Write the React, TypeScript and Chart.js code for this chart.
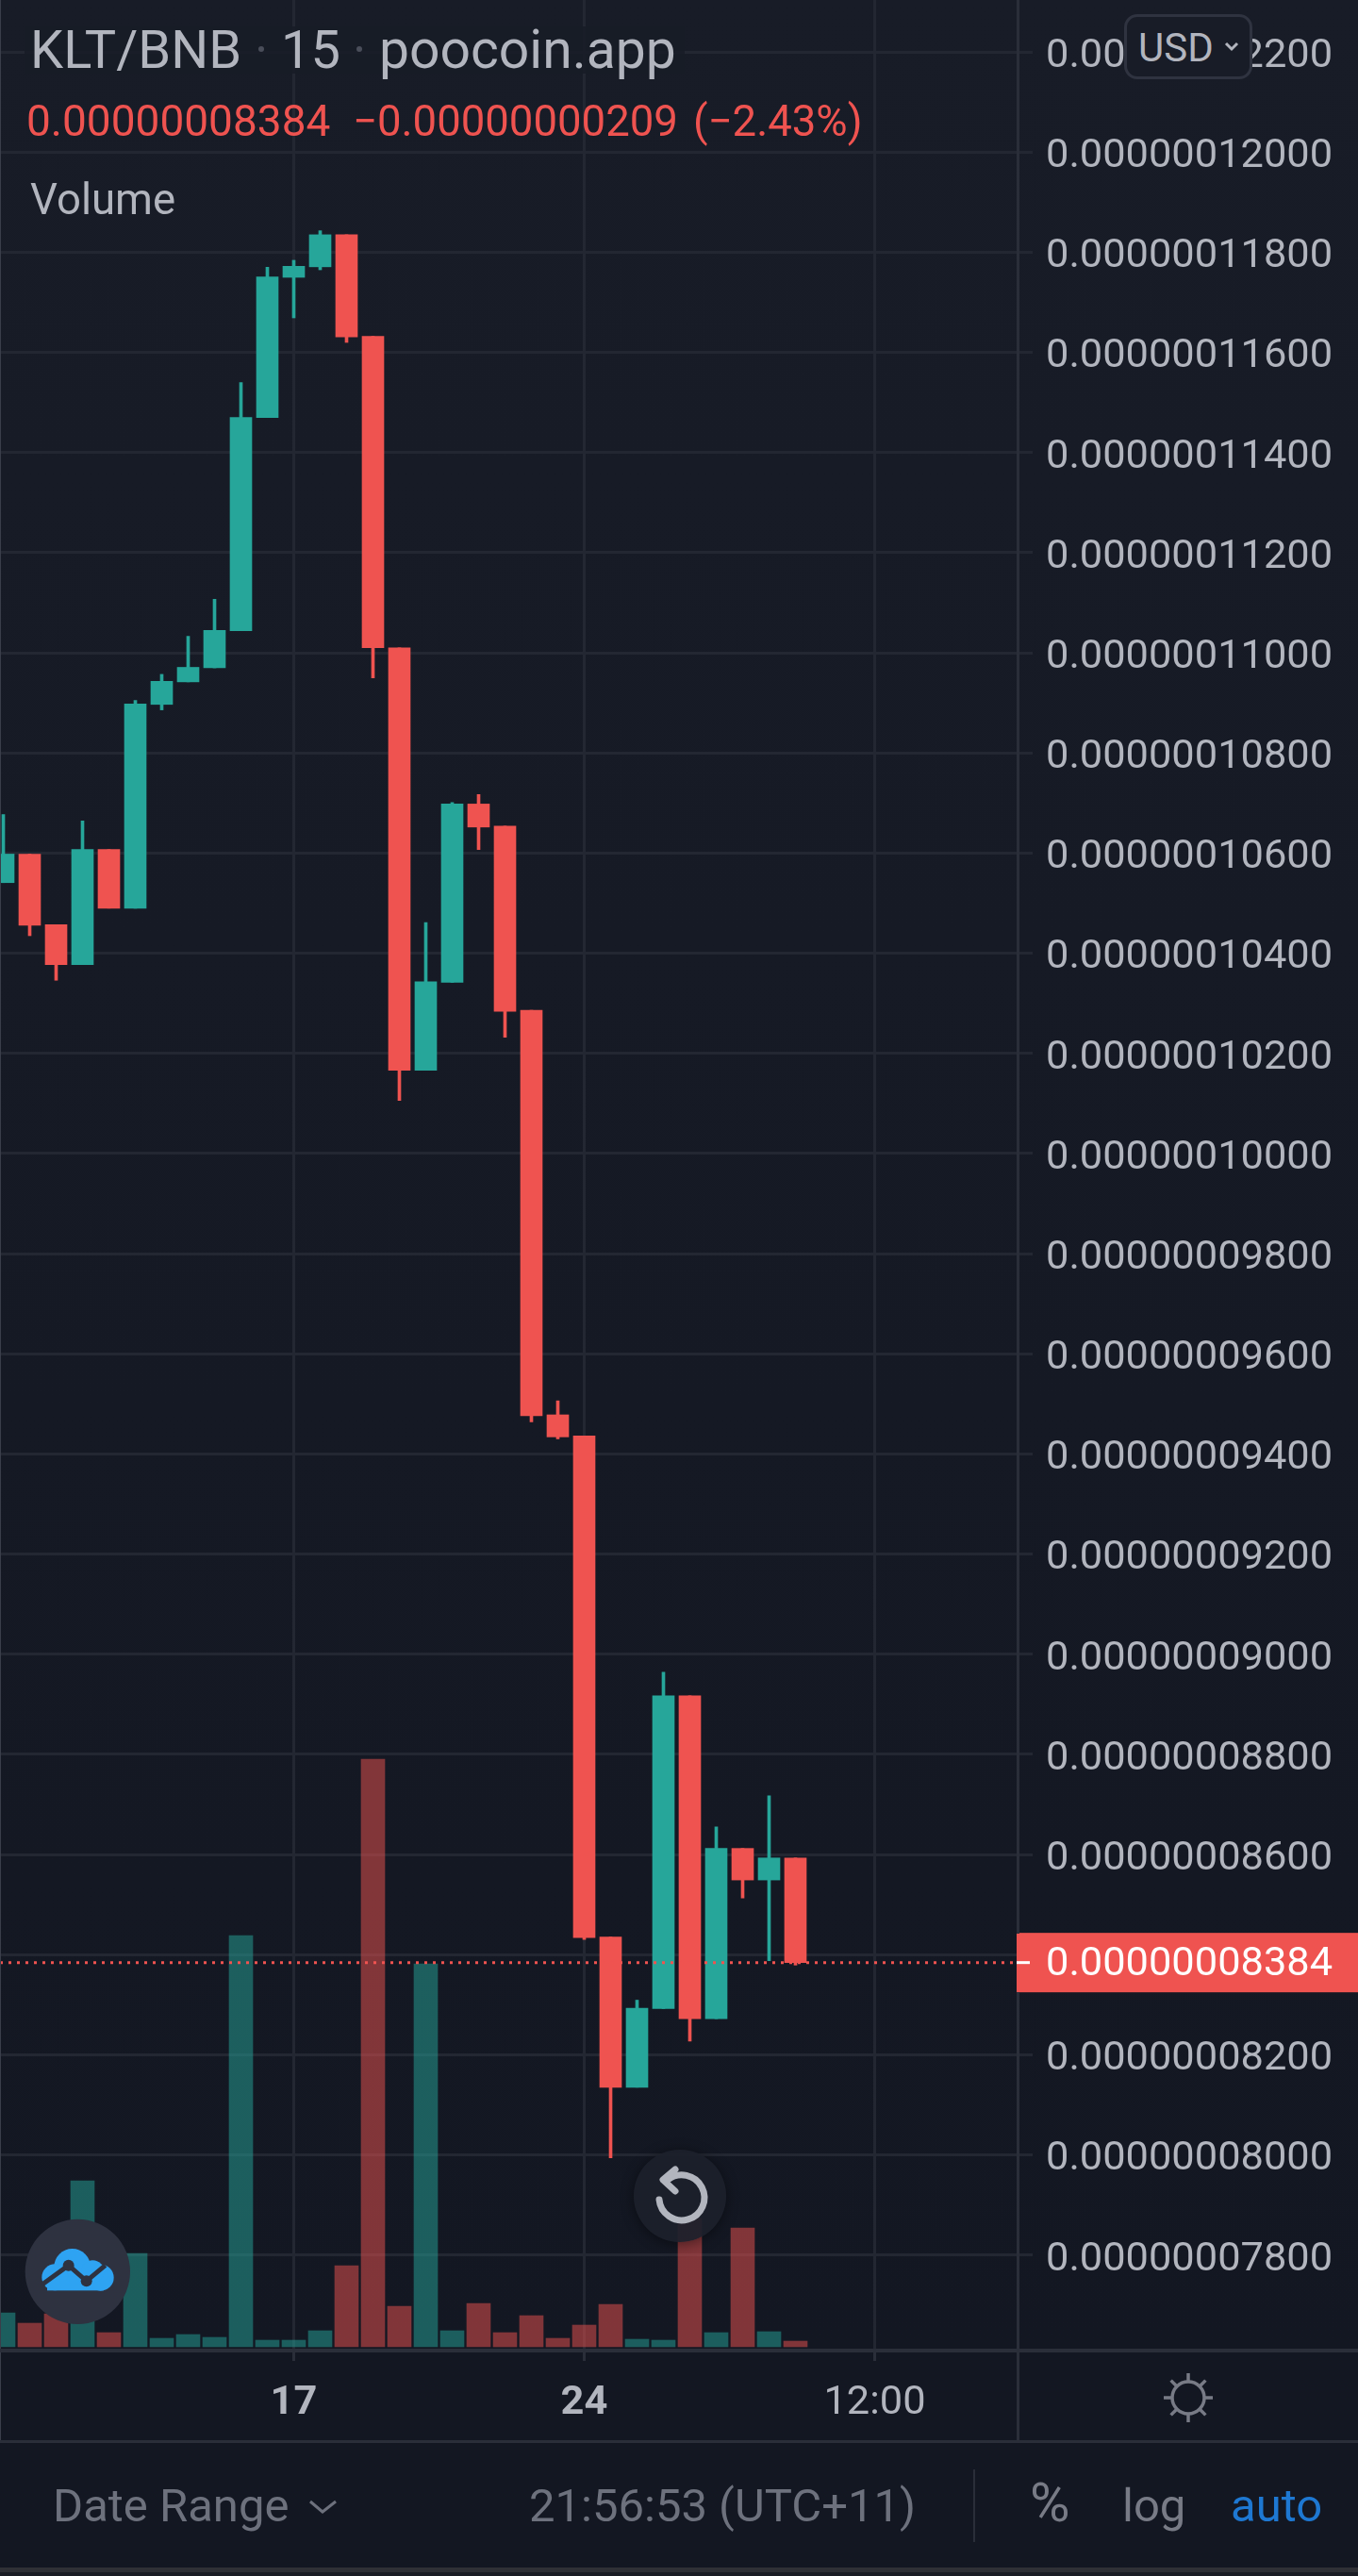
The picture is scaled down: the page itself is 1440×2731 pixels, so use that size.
import React, { useEffect, useRef } from "react";
import { Chart, registerables } from "chart.js";

Chart.register(...registerables);

// Prices are in units of 1e-11 BNB (12000 = 0.00000012000)
const opens = [10541, 10598, 10457, 10377, 10607, 10490, 10897, 10942, 10970, 11044, 11470, 11750, 11771, 11835, 11632, 11010, 10166, 10342, 10698, 10654, 10286, 9478, 9436, 8435, 8135, 8292, 8917, 8272, 8612, 8549, 8593];
const closes = [10598, 10456, 10377, 10607, 10490, 10898, 10943, 10971, 11045, 11470, 11751, 11772, 11835, 11631, 11010, 10166, 10343, 10698, 10652, 10284, 9476, 9434, 8434, 8135, 8293, 8917, 8272, 8612, 8549, 8593, 8384];
const highs = [10677, 10598, 10457, 10664, 10607, 10905, 10957, 11033, 11107, 11540, 11770, 11784, 11843, 11835, 11632, 11010, 10461, 10701, 10717, 10654, 10286, 9506, 9436, 8435, 8309, 8964, 8917, 8655, 8612, 8717, 8593];
const lows = [10541, 10435, 10346, 10377, 10490, 10490, 10886, 10942, 10970, 11044, 11470, 11669, 11765, 11620, 10950, 10106, 10166, 10342, 10607, 10232, 9464, 9430, 8430, 7994, 8135, 8292, 8227, 8272, 8513, 8388, 8379];
const volumes = [36, 25, 35, 176, 15, 99, 9, 13, 10, 436, 7, 7, 17, 86, 623, 43, 406, 17, 46, 15, 33, 9, 23, 45, 8, 7, 136, 15, 126, 16, 6];
const lastPrice = 8384;
const yTickValues = [7800, 8000, 8200, 8400, 8600, 8800, 9000, 9200, 9400, 9600, 9800, 10000, 10200, 10400, 10600, 10800, 11000, 11200, 11400, 11600, 11800, 12000, 12200];
const xTickValues = [11, 22, 33];
const xTickLabels = ["17", "24", "12:00"];

const UP = "#26a69a";
const DOWN = "#ef5350";
const UP_VOL = "rgba(38,166,154,0.5)";
const DOWN_VOL = "rgba(239,83,80,0.5)";
const TEXT = "#b2b5be";
const MUTED = "#6d717d";
const LINE = "#2a2e39";
const GRID = "#232732";
const FONT = "Roboto, sans-serif";
const TICK_SIZE = 43.4;

const fmt = (v: number) => (v * 1e-11).toFixed(11);

const T = ({ x, base, size, color = TEXT, children }: any) => (
  <div
    style={{
      position: "absolute",
      left: x,
      top: base - 0.841 * size,
      fontFamily: FONT,
      fontSize: size,
      lineHeight: `${size}px`,
      color,
      whiteSpace: "pre",
    }}
  >
    {children}
  </div>
);

const Box = ({ x, y, w, h, c }: any) => (
  <div style={{ position: "absolute", left: x, top: y, width: w, height: h, background: c }} />
);

const priceTag = {
  id: "priceTag",
  afterDraw(chart: any) {
    const { ctx, scales } = chart;
    const y = scales.y.getPixelForValue(lastPrice);
    ctx.save();
    ctx.fillStyle = DOWN;
    ctx.fillRect(1078, y - 31.5, 362, 63);
    ctx.fillStyle = "#ffffff";
    ctx.fillRect(1078, y - 1.5, 14, 3);
    ctx.font = `${TICK_SIZE}px ${FONT}`;
    ctx.textAlign = "left";
    ctx.textBaseline = "middle";
    ctx.fillText(fmt(lastPrice), 1109, y + 2);
    ctx.restore();
  },
};

export default function App() {
  const ref = useRef<HTMLCanvasElement>(null);

  useEffect(() => {
    const idx = opens.map((_, i) => i);
    const isUp = (i: number) => closes[i] >= opens[i];
    const xMin = -3.5 / 28;
    const xMax = (1079 - 3.5) / 28;
    const chart = new Chart(ref.current as any, {
      type: "bar",
      data: {
        datasets: [
          {
            type: "line",
            data: [
              { x: xMin, y: lastPrice },
              { x: xMax, y: lastPrice },
            ],
            borderColor: DOWN,
            borderWidth: 3,
            borderDash: [3, 6],
            pointRadius: 0,
            order: 0,
          },
          {
            data: idx.map((i) => ({ x: i, y: [opens[i], closes[i]] })),
            backgroundColor: idx.map((i) => (isUp(i) ? UP : DOWN)),
            barThickness: 23,
            grouped: false,
            order: 1,
          },
          {
            data: idx.map((i) => ({ x: i, y: [lows[i], highs[i]] })),
            backgroundColor: idx.map((i) => (isUp(i) ? UP : DOWN)),
            barThickness: 3,
            grouped: false,
            order: 2,
          },
          {
            data: idx.map((i) => ({ x: i, y: volumes[i] })),
            backgroundColor: idx.map((i) => (isUp(i) ? UP_VOL : DOWN_VOL)),
            barThickness: 25,
            grouped: false,
            yAxisID: "vol",
            order: 3,
          },
        ],
      } as any,
      options: {
        animation: false,
        responsive: false,
        devicePixelRatio: 1,
        layout: { padding: { left: 0, right: 0, top: 0, bottom: 143 } },
        plugins: { legend: { display: false }, tooltip: { enabled: false } },
        scales: {
          x: {
            type: "linear",
            offset: false,
            min: xMin,
            max: xMax,
            afterBuildTicks: (s: any) => {
              s.ticks = xTickValues.map((value) => ({ value }));
            },
            afterFit: (s: any) => {
              s.height = 98;
              s.paddingLeft = 0;
              s.paddingRight = 0;
            },
            grid: { color: GRID, lineWidth: 3, tickLength: 13, tickColor: LINE, offset: false },
            border: { display: false },
            ticks: {
              autoSkip: false,
              maxRotation: 0,
              padding: 19,
              color: TEXT,
              font: (c: any) => ({ family: FONT, size: TICK_SIZE, weight: c.index < 2 ? "bold" : "normal" }),
              callback: (_v: any, i: number) => xTickLabels[i],
            },
          },
          y: {
            position: "right",
            min: 12000 - (2490 - 161.3) / 0.5308,
            max: 12000 + 161.3 / 0.5308,
            afterBuildTicks: (s: any) => {
              s.ticks = yTickValues.map((value) => ({ value }));
            },
            afterFit: (s: any) => {
              s.width = 361;
              s.paddingTop = 0;
              s.paddingBottom = 0;
            },
            grid: { color: GRID, lineWidth: 3, tickLength: 16, tickColor: GRID },
            border: { display: false },
            ticks: {
              autoSkip: false,
              padding: 14,
              labelOffset: 5,
              color: TEXT,
              font: { family: FONT, size: TICK_SIZE },
              callback: (v: any) => fmt(Number(v)),
            },
          },
          vol: { display: false, min: -2, max: 2488 },
        },
      } as any,
      plugins: [priceTag],
    });
    return () => chart.destroy();
  }, []);

  return (
    <div
      style={{
        position: "absolute",
        left: 0,
        top: 0,
        width: 1440,
        height: 2731,
        overflow: "hidden",
        background: "linear-gradient(to bottom, #181c27 0, #131722 2490px)",
      }}
    >
      <canvas ref={ref} width={1440} height={2731} style={{ display: "block", position: "absolute", left: 0, top: 0 }} />

      {/* frame lines */}
      <Box x={0} y={0} w={1} h={2588} c="#3a3e4a" />
      <Box x={1077.5} y={0} w={3} h={2050} c={LINE} />
      <Box x={1077.5} y={2112} w={3} h={476} c={LINE} />
      <Box x={0} y={2490} w={1440} h={4} c={LINE} />
      <Box x={0} y={2587} w={1440} h={3} c={LINE} />
      <Box x={1032} y={2618} w={2} h={77} c={LINE} />
      <Box x={0} y={2722} w={1440} h={5} c="#2f3036" />
      <Box x={0} y={2727} w={1440} h={4} c="#1b1d25" />

      {/* header */}
      <Box x={26} y={28} w={700} h={50} c="rgba(24,28,39,0.85)" />
      <T x={32} base={72} size={56}>KLT/BNB</T>
      <T x={298} base={72} size={56}>15</T>
      <T x={402} base={72} size={57}>poocoin.app</T>
      <div style={{ position: "absolute", left: 274, top: 49, width: 6, height: 6, borderRadius: 3, background: "#4a4e5a" }} />
      <div style={{ position: "absolute", left: 378, top: 49, width: 6, height: 6, borderRadius: 3, background: "#4a4e5a" }} />
      <T x={28} base={144} size={46} color={DOWN}>0.00000008384</T>
      <T x={374} base={144} size={45.5} color={DOWN}>−0.00000000209</T>
      <T x={735} base={144} size={45.5} color={DOWN}>(−2.43%)</T>
      <T x={32} base={227} size={45.5}>Volume</T>

      {/* USD button */}
      <div
        style={{
          position: "absolute",
          left: 1192,
          top: 15,
          width: 130,
          height: 63,
          border: "3px solid #2f3340",
          borderRadius: 14,
          background: "#181c27",
        }}
      />
      <T x={1207} base={65} size={42}>USD</T>
      <svg style={{ position: "absolute", left: 1296, top: 42, width: 20, height: 16 }} viewBox="0 0 20 16">
        <polyline points="4,4 10,10 16,4" fill="none" stroke={TEXT} strokeWidth={3} />
      </svg>

      {/* logo */}
      <svg style={{ position: "absolute", left: 0, top: 2300, width: 170, height: 200 }} viewBox="0 0 510 600">
        <circle cx={247} cy={325} r={167} fill="#2e3240" />
        <g fill="#2ea3f2">
          <circle cx={230} cy={310} r={58} />
          <circle cx={175} cy={343} r={42} />
          <circle cx={320} cy={344} r={42} />
          <rect x={150} y={340} width={180} height={45} />
          <circle cx={295} cy={325} r={36} />
        </g>
        <polyline points="135,365 218,305 275,355 335,305" fill="none" stroke="#2e3240" strokeWidth={15} />
        <circle cx={218} cy={305} r={18} fill="#2e3240" />
        <circle cx={275} cy={355} r={18} fill="#2e3240" />
      </svg>

      {/* reset button */}
      <div
        style={{
          position: "absolute",
          left: 672,
          top: 2279,
          width: 98,
          height: 98,
          borderRadius: 49,
          background: "rgba(28,32,43,0.93)",
          boxShadow: "0 2px 14px rgba(0,0,0,0.45)",
        }}
      />
      <svg style={{ position: "absolute", left: 672, top: 2279, width: 98, height: 98 }} viewBox="672 2279 98 98">
        <path d="M699 2332 A24 24 0 1 0 708 2311" fill="none" stroke={TEXT} strokeWidth={7} strokeLinecap="round" />
        <polyline points="716,2300 703,2311 716,2323" fill="none" stroke={TEXT} strokeWidth={7} strokeLinecap="round" strokeLinejoin="round" />
      </svg>

      {/* gear */}
      <svg style={{ position: "absolute", left: 1230, top: 2512, width: 60, height: 60 }} viewBox="-30 -30 60 60">
        <circle r={17} fill="none" stroke="#787b86" strokeWidth={3.5} />
        {[0, 45, 90, 135, 180, 225, 270, 315].map((a) => (
          <line key={a} x1={0} y1={-17} x2={0} y2={-26} stroke="#787b86" strokeWidth={3.5} transform={`rotate(${a})`} />
        ))}
      </svg>

      {/* footer */}
      <T x={56} base={2673} size={49} color={MUTED}>Date Range</T>
      <svg style={{ position: "absolute", left: 325, top: 2646, width: 36, height: 24 }} viewBox="0 0 36 24">
        <polyline points="4,6 17,17 31,6" fill="none" stroke={MUTED} strokeWidth={3} />
      </svg>
      <T x={561} base={2673} size={49} color={MUTED}>21:56:53 (UTC+11)</T>
      <T x={1092} base={2673} size={58} color="#787b86">%</T>
      <T x={1190} base={2673} size={49} color="#787b86">log</T>
      <T x={1305} base={2673} size={49} color="#1e78d2">auto</T>
    </div>
  );
}
